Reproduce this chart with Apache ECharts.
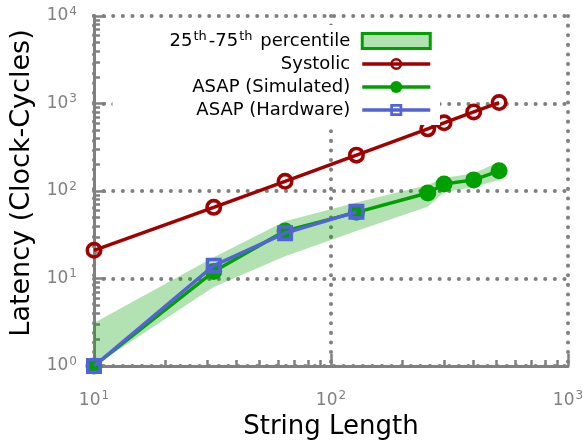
<!DOCTYPE html>
<html>
<head>
<meta charset="utf-8">
<script src="https://cdn.jsdelivr.net/npm/echarts@6/dist/echarts.min.js"></script>
<style>html,body{margin:0;padding:0;background:#fff;}#c{width:583px;height:443px;}</style>
</head>
<body>
<div id="c"></div>
<script>
// ---- data ----
var stringLength = [10, 32, 64, 128, 256, 300, 400, 512];
var systolic = [21, 65, 129, 257, 513, 601, 801, 1025];
var asapSimulated = [1, 12, 35, 57, 95, 120, 134, 170];
var hwLength = [10, 32, 64, 128];
var asapHardware = [1, 14, 33, 58];
var p25 = [1, 8, 18, 35, 66, 97, 111, 134];
var p75 = [3.1, 17.5, 45, 74, 117, 141, 160, 215];
var xMajorTicks = [10, 100, 1000];
var xMinorTicks = [20, 30, 40, 50, 60, 70, 80, 90, 200, 300, 400, 500, 600, 700, 800, 900];
var yMajorTicks = [1, 10, 100, 1000, 10000];
var yMinorTicks = [2, 3, 4, 5, 6, 7, 8, 9, 20, 30, 40, 50, 60, 70, 80, 90, 200, 300, 400, 500, 600, 700, 800, 900, 2000, 3000, 4000, 5000, 6000, 7000, 8000, 9000];

var RED = '#a00000', GREEN = '#00a000', BLUE = '#5263d6', GRAY = '#808080';
var FONT = 'DejaVu Sans';
var ringPath = 'path://M0,-10A10,10,0,1,1,0,10A10,10,0,1,1,0,-10ZM0,-5.8A5.8,5.8,0,1,0,0,5.8A5.8,5.8,0,1,0,0,-5.8Z';
var sqRingPath = 'path://M0,0H20V20H0ZM4.5,4.5V15.5H15.5V4.5Z';

function pairs(xs, ys) { return xs.map(function (x, i) { return [x, ys[i]]; }); }
function supLabel(v) { return '10{sup|' + Math.round(Math.log10(v)) + '}'; }
var labelRich = {
  sup: { fontSize: 12, fontFamily: FONT, color: GRAY, padding: [0, 0, 9, 1] }
};
var dotted = { color: GRAY, width: 4, type: [0.1, 9.5], cap: 'round' };

var chart = echarts.init(document.getElementById('c'), null, { renderer: 'canvas' });
chart.setOption({
  animation: false,
  textStyle: { fontFamily: FONT },
  grid: { left: 94, right: 15, top: 16, bottom: 77, containLabel: false, outerBoundsMode: 'none' },
  legend: {
    orient: 'vertical', align: 'right', right: 143, top: 25, padding: [5, 8, 6, 57],
    backgroundColor: '#ffffff',
    itemWidth: 68, itemHeight: 15, itemGap: 5,
    textStyle: { fontSize: 18, color: '#000', fontFamily: FONT, padding: [0, 7, 0, 0],
      rich: { sup: { fontSize: 13, color: '#000', fontFamily: FONT, padding: [0, 2, 9, 1] } } },
    formatter: function (n) { return n === 'p' ? '25{sup|th}-75{sup|th} percentile' : n; },
    data: [
      { name: 'p', icon: 'rect', itemStyle: { color: 'rgba(0,160,0,0.3)', borderColor: GREEN, borderWidth: 3 } },
      { name: 'Systolic', lineStyle: { width: 3.5 } },
      { name: 'ASAP (Simulated)', lineStyle: { width: 3.5 } },
      { name: 'ASAP (Hardware)', lineStyle: { width: 3.5 } }
    ]
  },
  xAxis: [{
    type: 'log', logBase: 10, min: 10, max: 1000,
    name: 'String Length', nameLocation: 'middle', nameGap: 38,
    nameTextStyle: { fontSize: 26, color: '#000', fontFamily: FONT },
    axisLine: { lineStyle: { color: GRAY, width: 3 } },
    axisTick: { inside: true, length: 12, lineStyle: { color: GRAY, width: 2.5 }, customValues: xMajorTicks },
    axisLabel: { color: GRAY, fontSize: 17, margin: 24, formatter: supLabel, rich: labelRich, customValues: xMajorTicks },
    splitLine: { show: true, lineStyle: dotted }
  }, {
    type: 'log', logBase: 10, min: 10, max: 1000, position: 'bottom',
    axisLine: { show: false },
    axisTick: { inside: true, length: 6, lineStyle: { color: GRAY, width: 2.5 }, customValues: xMinorTicks },
    axisLabel: { show: false },
    splitLine: { show: false }
  }],
  yAxis: [{
    type: 'log', logBase: 10, min: 1, max: 10000,
    name: 'Latency (Clock-Cycles)', nameLocation: 'middle', nameGap: 56,
    nameTextStyle: { fontSize: 27, color: '#000', fontFamily: FONT, padding: [0, 0, 0, 16] },
    axisLine: { lineStyle: { color: GRAY, width: 3 } },
    axisTick: { inside: true, length: 12, lineStyle: { color: GRAY, width: 2.5 }, customValues: yMajorTicks },
    axisLabel: { color: GRAY, fontSize: 17, margin: 17, formatter: supLabel, rich: labelRich, customValues: yMajorTicks },
    splitLine: { show: true, lineStyle: dotted }
  }, {
    type: 'log', logBase: 10, min: 1, max: 10000, position: 'left',
    axisLine: { show: false },
    axisTick: { inside: true, length: 6, lineStyle: { color: GRAY, width: 2.5 }, customValues: yMinorTicks },
    axisLabel: { show: false },
    splitLine: { show: false }
  }],
  series: [
    {
      name: 'p', type: 'custom', xAxisIndex: 0, yAxisIndex: 0,
      itemStyle: { color: 'rgba(0,160,0,0.3)' },
      data: stringLength.map(function (x, i) { return [x, p25[i], p75[i]]; }),
      renderItem: function (params, api) {
        if (params.dataIndex !== 0) return;
        var pts = [];
        for (var i = 0; i < stringLength.length; i++) pts.push(api.coord([stringLength[i], p75[i]]));
        for (var j = stringLength.length - 1; j >= 0; j--) pts.push(api.coord([stringLength[j], p25[j]]));
        return { type: 'polygon', shape: { points: pts }, style: { fill: 'rgba(0,160,0,0.3)' } };
      },
      z: 1
    },
    {
      name: 'Systolic', type: 'line', data: pairs(stringLength, systolic),
      symbol: ringPath, symbolSize: 17,
      itemStyle: { color: RED }, lineStyle: { color: RED, width: 3.5 }, z: 3
    },
    {
      name: 'ASAP (Simulated)', type: 'line', data: pairs(stringLength, asapSimulated),
      symbol: 'circle', symbolSize: 17,
      itemStyle: { color: GREEN }, lineStyle: { color: GREEN, width: 3.5 }, z: 4
    },
    {
      name: 'ASAP (Hardware)', type: 'line', data: pairs(hwLength, asapHardware),
      symbol: sqRingPath, symbolSize: 16,
      itemStyle: { color: BLUE }, lineStyle: { color: BLUE, width: 3.5 }, z: 5
    }
  ]
});
</script>
</body>
</html>
